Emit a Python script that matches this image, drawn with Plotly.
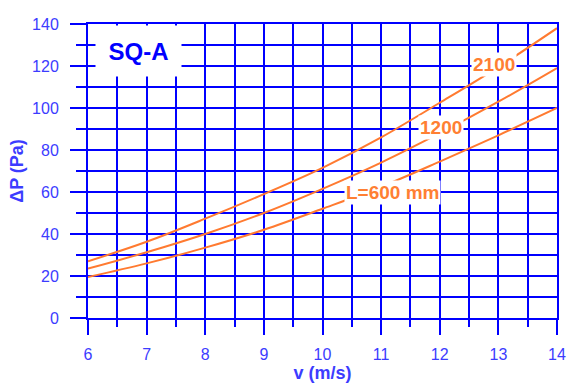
import plotly.graph_objects as go

v = [6, 7, 8, 9, 10, 11, 12, 13, 14]
dp_2100 = [27, 36.3, 47.3, 59, 71.5, 86, 102.5, 119.5, 138]
dp_1200 = [23.5, 31.3, 40, 50, 61.5, 74, 88, 103, 119]
dp_600 = [19.5, 26, 33.5, 42, 52, 62.5, 74.5, 87, 100]
x_ticks = [6, 7, 8, 9, 10, 11, 12, 13, 14]
y_ticks = [0, 20, 40, 60, 80, 100, 120, 140]

BLUE = "#0000FF"
TXT = "#3C3CFF"
ORANGE = "#FF7A30"
FONT = "Arial, Liberation Sans, sans-serif"

fig = go.Figure()
for ys in (dp_2100, dp_1200, dp_600):
    fig.add_trace(go.Scatter(x=v, y=ys, mode="lines", line=dict(color=ORANGE, width=2, shape="spline"),
                             showlegend=False, hoverinfo="skip"))

labels = [("2100", 12.92, 120.5), ("1200", 12.02, 90.5), ("L=600 mm", 11.2, 60)]
for txt, lx, ly in labels:
    fig.add_annotation(x=lx, y=ly, text=txt, showarrow=False, bgcolor="white", borderpad=1,
                       font=dict(family=FONT, size=19, color="#FF7F33", weight="bold"))

fig.add_annotation(x=6.867, y=127.2, text="SQ-A", showarrow=False, bgcolor="white",
                   width=83, height=48, font=dict(family=FONT, size=24, color=BLUE, weight="bold"))

fig.update_xaxes(range=[6, 14], tickvals=x_ticks, ticks="outside", ticklen=15, tickwidth=2, tickcolor=BLUE,
                 showgrid=True, gridcolor=BLUE, gridwidth=2, zeroline=False, automargin=False,
                 showline=True, mirror=True, linecolor=BLUE, linewidth=2, ticklabelstandoff=6,
                 minor=dict(dtick=0.5, tick0=6, ticks="outside", ticklen=7, tickwidth=2, tickcolor=BLUE,
                            showgrid=True, gridcolor=BLUE, gridwidth=2),
                 tickfont=dict(family=FONT, size=16, color=TXT),
                 title=dict(text="v (m/s)", font=dict(family=FONT, size=18, color=TXT, weight="bold"), standoff=4))
fig.update_yaxes(range=[0, 140], tickvals=y_ticks, ticks="outside", ticklen=16, tickwidth=2, tickcolor=BLUE,
                 showgrid=True, gridcolor=BLUE, gridwidth=2, zeroline=False, automargin=False,
                 showline=True, mirror=True, linecolor=BLUE, linewidth=2, ticklabelstandoff=8,
                 minor=dict(dtick=10, tick0=0, ticks="outside", ticklen=10, tickwidth=2, tickcolor=BLUE,
                            showgrid=True, gridcolor=BLUE, gridwidth=2),
                 tickfont=dict(family=FONT, size=16, color=TXT),
                 title=dict(text="ΔP (Pa)", font=dict(family=FONT, size=18, color=TXT, weight="bold"), standoff=4))

fig.update_layout(width=567, height=383, margin=dict(l=88, r=10, t=24, b=65),
                  plot_bgcolor="white", paper_bgcolor="white")
fig.write_html("out.html", config={"displayModeBar": False},
               post_script="document.body.style.margin='0';document.body.style.overflow='hidden';")
